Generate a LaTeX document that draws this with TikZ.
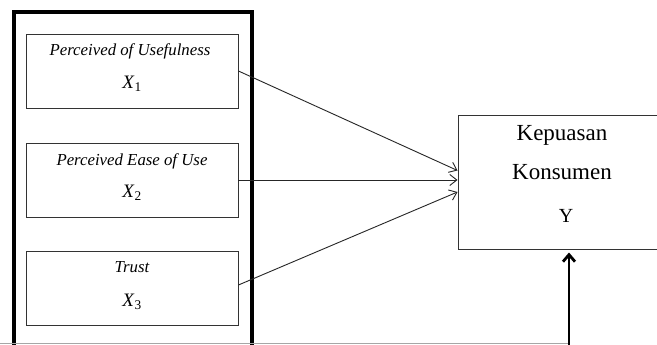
\documentclass[tikz,border=0pt]{standalone}
\usepackage{fontspec}
\setmainfont{Liberation Serif}
\usetikzlibrary{arrows.meta}

\begin{document}
\begin{tikzpicture}[x=1pt, y=1pt,
        varbox/.style={draw=black!80, line width=0.9pt, minimum width=212pt, minimum height=74pt, inner sep=0pt},
        link/.style={draw=black!85, line width=0.9pt, -{Straight Barb[length=7pt, width=11pt]}}]
        \useasboundingbox (0, 0) rectangle (657, -345);
        \fill[white] (0, 0) rectangle (657, -345);
        \draw[line width=4pt] (14, -352) -- (14, -12) -- (251.5, -12) -- (251.5, -352);
        \draw[black!35, line width=0.6pt] (0, -343.5) -- (569, -343.5);
        \node[varbox] (x1) at (132, -71) {};
        \node[varbox] (x2) at (132, -180) {};
        \node[varbox] (x3) at (132, -288) {};
        \node[font=\fontsize{16.8}{18}\selectfont\itshape] (t1) at (130, -51) {Perceived of Usefulness};
        \node[font=\fontsize{16.8}{18}\selectfont\itshape] (t2) at (132, -161) {Perceived Ease of Use};
        \node[font=\fontsize{16.8}{18}\selectfont\itshape] (t3) at (132, -267) {Trust};
        \node[font=\fontsize{19}{20}\selectfont] (s1) at (132, -84) {\textit{X}\textsubscript{1}};
        \node[font=\fontsize{19}{20}\selectfont] (s2) at (132, -193) {\textit{X}\textsubscript{2}};
        \node[font=\fontsize{19}{20}\selectfont] (s3) at (132, -302) {\textit{X}\textsubscript{3}};
        \node[draw=black!80, line width=1pt, minimum width=212pt, minimum height=133pt] (y) at (564, -182.5) {};
        \node[font=\fontsize{23}{24}\selectfont] (k1) at (562, -135) {Kepuasan};
        \node[font=\fontsize{23}{24}\selectfont] (k2) at (562, -172) {Konsumen};
        \node[font=\fontsize{20}{22}\selectfont] (k3) at (566, -216) {Y};
        \draw[link] (x1.east) -- ([yshift=12pt]y.west);
        \draw[link] (x2.east) -- ([yshift=2.5pt]y.west);
        \draw[link] ([yshift=3pt]x3.east) -- ([yshift=-9.5pt]y.west);
        \coordinate (bot) at (569, -350);
        \draw[line width=2.8pt, -{Straight Barb[length=7pt, width=12pt]}] (bot) -- ([yshift=-3pt]bot |- y.south);
    \end{tikzpicture}
\end{document}
